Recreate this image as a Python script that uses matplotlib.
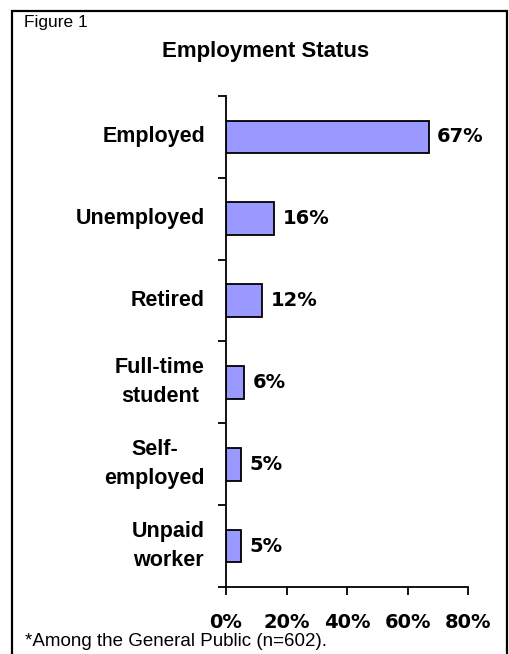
import matplotlib
matplotlib.use("Agg")
import matplotlib.pyplot as plt
from matplotlib.patches import Rectangle
from matplotlib.ticker import FixedLocator, NullFormatter

categories = ["Employed", "Unemployed", "Retired", "Full-time\nstudent", "Self-\nemployed", "Unpaid\nworker"]
values = [67, 16, 12, 6, 5, 5]
xticks = [0, 20, 40, 60, 80]
xtick_labels = ["0%", "20%", "40%", "60%", "80%"]

W, H = 509, 654
fig = plt.figure(figsize=(W / 100, H / 100), dpi=100)

# frame around the whole figure (open at the bottom)
fig.patches.append(Rectangle((12 / W, -0.1), (507 - 12) / W, 1.1 - 11 / H,
                             transform=fig.transFigure, fill=False,
                             edgecolor="black", linewidth=1.6))

ax = fig.add_axes([226 / W, 1 - 587 / H, (468 - 226) / W, (587 - 96) / H])

ypos = list(range(len(categories)))
ax.barh(ypos, values, height=0.4, color="#9999FF", edgecolor="black", linewidth=1.3)
ax.set_ylim(len(categories) - 0.5, -0.5)
ax.set_xlim(0, 80)

label_font = "Liberation Sans"
value_font = "DejaVu Sans"

for y, v in zip(ypos, values):
    ax.annotate(f"{v}%", (v, y), xytext=(6, 0), textcoords="offset points",
                ha="left", va="center", fontsize=14, fontweight="bold",
                family=value_font)

ax.set_xticks(xticks)
ax.set_xticklabels(xtick_labels, fontsize=14, fontweight="bold", family=value_font)
ax.tick_params(axis="x", direction="out", length=6, width=1.3, pad=13)

ax.yaxis.set_major_locator(FixedLocator([i - 0.5 for i in range(len(categories) + 1)]))
ax.yaxis.set_major_formatter(NullFormatter())
ax.tick_params(axis="y", direction="out", length=6, width=1.3)

for y, c in zip(ypos, categories):
    ax.annotate(c, (0, y), xytext=(-21, 0), textcoords="offset pixels",
                ha="right", va="center", fontsize=15.5, fontweight="bold",
                family=label_font, multialignment="center", linespacing=1.5)

for s in ("top", "right"):
    ax.spines[s].set_visible(False)
for s in ("left", "bottom"):
    ax.spines[s].set_linewidth(1.3)

fig.text(266 / W, 1 - 52 / H, "Employment Status", ha="center", va="center",
         fontsize=16, fontweight="bold", family=label_font)
fig.text(24 / W, 1 - 22 / H, "Figure 1", ha="left", va="center", fontsize=12.5,
         family=label_font)
fig.text(25 / W, 1 - 641 / H, "*Among the General Public (n=602).", ha="left",
         va="center", fontsize=13.5, family=label_font)

fig.savefig("out.png", dpi=100)
